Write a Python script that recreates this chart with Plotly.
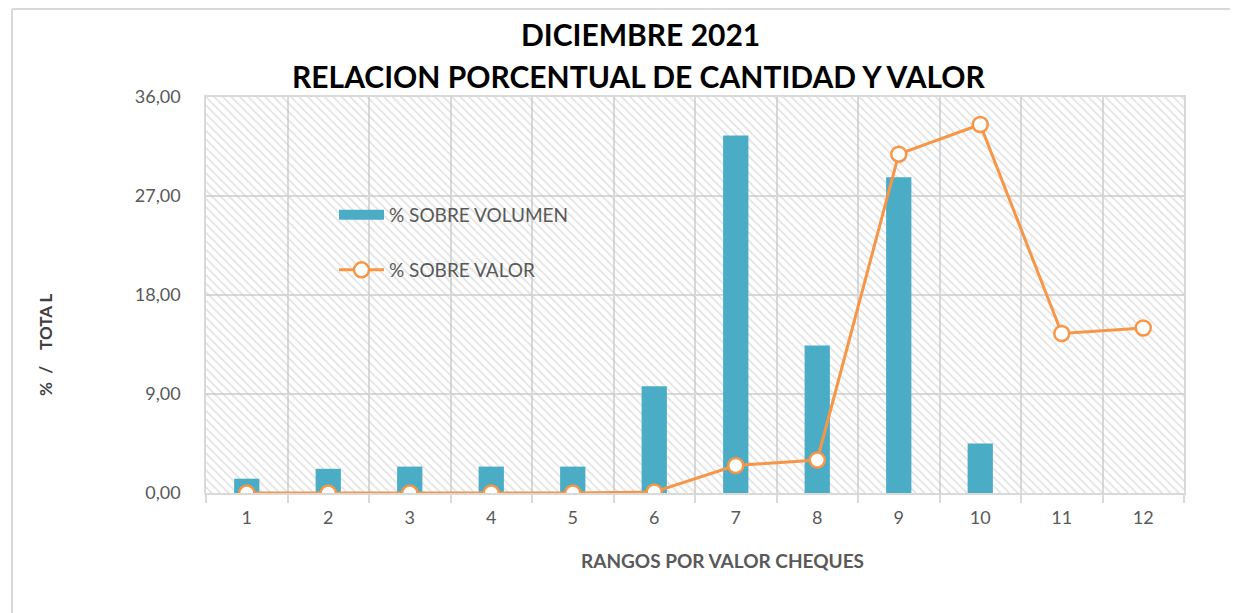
import plotly.graph_objects as go

categories = [1, 2, 3, 4, 5, 6, 7, 8, 9, 10, 11, 12]
volumen = [1.3, 2.2, 2.4, 2.4, 2.4, 9.7, 32.5, 13.4, 28.7, 4.5, 0.0, 0.0]
valor = [0.0, 0.0, 0.0, 0.0, 0.0, 0.1, 2.5, 3.0, 30.8, 33.5, 14.5, 15.0]
y_ticks = [0, 9, 18, 27, 36]
y_tick_labels = ["0,00", "9,00", "18,00", "27,00", "36,00"]

x_lo, x_hi = categories[0] - 0.5, categories[-1] + 0.5
y_lo, y_hi = y_ticks[0], y_ticks[-1]

FONT = "Lato"
GRAY = "#d9d9d9"
BLUE = "#4bacc6"
ORANGE = "#f79646"

# page geometry (body has an 8px margin)
PL, PR, PT, PB = 206, 1184, 97, 493
W, H = PR - PL, PB - PT


def px(x):
    return (x - PL) / W


def py(y):
    return (PB - y) / H


fig = go.Figure()

# hatched plot-area background (one full-width column per category)
fig.add_trace(go.Bar(
    x=categories, y=[y_hi] * len(categories), width=1.0,
    marker=dict(color="rgba(255,255,255,0)", line=dict(width=0),
                pattern=dict(shape="\\", fgcolor="#c6c6c6", bgcolor="rgba(255,255,255,0)",
                             size=6, solidity=0.3)),
    hoverinfo="skip", showlegend=False))

fig.add_trace(go.Bar(
    x=categories, y=volumen, name="% SOBRE VOLUMEN", width=0.31,
    marker=dict(color=BLUE, line=dict(width=0)), showlegend=False))

# legend entry for the bars (wide flat swatch)
fig.add_trace(go.Scatter(
    x=[None], y=[None], mode="lines", name="% SOBRE VOLUMEN",
    line=dict(color=BLUE, width=12), legend="legend"))

fig.add_trace(go.Scatter(
    x=categories, y=valor, name="% SOBRE VALOR", mode="lines+markers",
    line=dict(color=ORANGE, width=3),
    marker=dict(symbol="circle", size=15, color="white",
                line=dict(color=ORANGE, width=2.5)),
    legend="legend2"))

fig.update_layout(
    width=1230, height=605,
    margin=dict(l=PL - 8, r=1238 - PR, t=PT - 8, b=613 - PB),
    paper_bgcolor="white", plot_bgcolor="white",
    barmode="overlay",
    font=dict(family=FONT, color="#595959", size=18),
    showlegend=True,
    legend=dict(x=px(334), y=py(215), xanchor="left", yanchor="middle",
                itemwidth=45, bgcolor="rgba(0,0,0,0)",
                font=dict(size=19, color="#595959")),
    legend2=dict(x=px(334), y=py(270), xanchor="left", yanchor="middle",
                 itemwidth=45, bgcolor="rgba(0,0,0,0)",
                 font=dict(size=19, color="#595959")),
    xaxis=dict(range=[x_lo, x_hi], tickmode="array", tickvals=categories,
               ticktext=[str(c) for c in categories], ticks="", showgrid=False,
               showline=True, linecolor=GRAY, linewidth=1.5, mirror=True,
               zeroline=False, tickfont=dict(size=18, color="#595959"),
               ticklabelstandoff=8,
               minor=dict(tickmode="array",
                          tickvals=[c - 0.5 for c in categories] + [x_hi],
                          ticks="outside", ticklen=8, tickcolor=GRAY, tickwidth=1.5,
                          showgrid=True, gridcolor=GRAY, gridwidth=1.5)),
    yaxis=dict(range=[y_lo, y_hi], tickmode="array", tickvals=y_ticks,
               ticktext=y_tick_labels, showgrid=True, gridcolor=GRAY, gridwidth=1.5,
               showline=True, linecolor=GRAY, linewidth=1.5, mirror=True,
               zeroline=False, ticks="", ticklabelstandoff=20,
               tickfont=dict(size=18, color="#595959")),
    annotations=[
        dict(text="<b>DICIEMBRE 2021</b>", xref="paper", yref="paper",
             x=px(640), y=py(34), xanchor="center", yanchor="middle", showarrow=False,
             font=dict(family=FONT, size=30, color="#000000")),
        dict(text="<b>RELACION PORCENTUAL DE CANTIDAD Y VALOR</b>", xref="paper", yref="paper",
             x=px(639), y=py(76), xanchor="center", yanchor="middle", showarrow=False,
             font=dict(family=FONT, size=30, color="#000000")),
        dict(text="<b>RANGOS POR VALOR CHEQUES</b>", xref="paper", yref="paper",
             x=px(722), y=py(560), xanchor="center", yanchor="middle", showarrow=False,
             font=dict(family=FONT, size=19, color="#595959")),
        dict(text="<b>%  /    TOTA L</b>", xref="paper", yref="paper", textangle=-90,
             x=px(45), y=py(345), xanchor="center", yanchor="middle", showarrow=False,
             font=dict(family=FONT, size=17, color="#404040")),
    ],
    shapes=[dict(type="line", xref="paper", yref="paper",
                 x0=px(12), x1=px(12), y0=py(620), y1=py(9),
                 line=dict(color=GRAY, width=2)),
            dict(type="line", xref="paper", yref="paper",
                 x0=px(12), x1=px(1245), y0=py(9), y1=py(9),
                 line=dict(color=GRAY, width=2))],
)

fig.write_html("out.html")
